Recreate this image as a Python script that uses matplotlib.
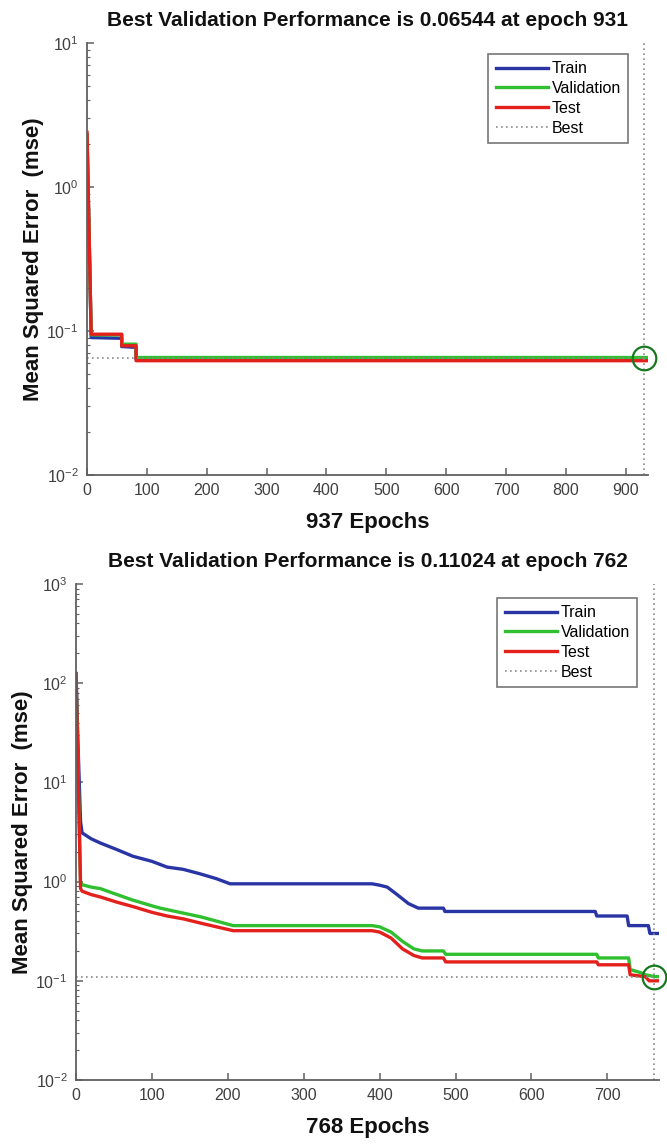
import matplotlib
matplotlib.use("Agg")
import matplotlib.pyplot as plt
from matplotlib.ticker import LogLocator, NullFormatter, FixedLocator

plt.rcParams['font.family'] = ['Liberation Sans', 'DejaVu Sans']
plt.rcParams['mathtext.fontset'] = 'custom'
plt.rcParams['mathtext.rm'] = 'Liberation Sans'
plt.rcParams['mathtext.it'] = 'Liberation Sans:italic'
plt.rcParams['mathtext.bf'] = 'Liberation Sans:bold'

# ---------------- data: top panel ----------------
top_epochs_total = 937
top_best_epoch = 931
top_best_value = 0.06544
top_train_ep = [0, 7, 58, 58, 82, 82, 937]
top_train = [2.3, 0.090, 0.089, 0.078, 0.077, 0.0635, 0.0635]
top_val_ep = [0, 7, 58, 58, 82, 82, 937]
top_val = [2.3, 0.094, 0.094, 0.081, 0.081, 0.06544, 0.06544]
top_test_ep = [0, 7, 58, 58, 82, 82, 937]
top_test = [2.4, 0.095, 0.095, 0.079, 0.079, 0.0622, 0.0622]
top_xticks = [0, 100, 200, 300, 400, 500, 600, 700, 800, 900]

# ---------------- data: bottom panel ----------------
bot_epochs_total = 768
bot_best_epoch = 762
bot_best_value = 0.11024
bot_train_ep = [0, 3, 6, 8, 20, 32, 54, 75, 100, 120, 141, 163, 185, 203,
                390, 400, 410, 423, 438, 451, 484, 486, 684, 686, 726, 728,
                754, 756, 768]
bot_train = [125, 20, 4.0, 3.1, 2.7, 2.45, 2.1, 1.8, 1.6, 1.4, 1.33, 1.2,
             1.07, 0.95, 0.95, 0.92, 0.88, 0.74, 0.60, 0.54, 0.54, 0.50,
             0.50, 0.45, 0.45, 0.36, 0.36, 0.30, 0.30]
bot_val_ep = [0, 6, 8, 20, 32, 54, 75, 100, 111, 142, 165, 185, 207,
              390, 400, 415, 430, 445, 456, 484, 487, 686, 688, 728, 730,
              745, 750, 762, 768]
bot_val = [125, 1.0, 0.93, 0.88, 0.85, 0.74, 0.65, 0.57, 0.54, 0.48, 0.44,
           0.40, 0.36, 0.36, 0.35, 0.31, 0.25, 0.21, 0.20, 0.20, 0.185,
           0.185, 0.17, 0.17, 0.13, 0.12, 0.115, 0.11024, 0.11]
bot_test_ep = [0, 6, 8, 20, 32, 54, 75, 100, 120, 142, 165, 185, 207,
               390, 400, 415, 430, 445, 456, 484, 487, 686, 688, 728, 730,
               750, 755, 768]
bot_test = [125, 0.85, 0.80, 0.74, 0.70, 0.62, 0.56, 0.49, 0.45, 0.42, 0.38,
            0.35, 0.32, 0.32, 0.31, 0.27, 0.21, 0.18, 0.17, 0.17, 0.155,
            0.155, 0.145, 0.145, 0.115, 0.11, 0.10, 0.10]
bot_xticks = [0, 100, 200, 300, 400, 500, 600, 700]

C_TRAIN = '#2a35a5'
C_VAL = '#2fbf2f'
C_TEST = '#e3201c'
C_BEST = '#8a8a8a'
C_CIRCLE = '#17781f'
C_AXIS = '#606060'
C_TICK = '#404040'

fig = plt.figure(figsize=(6.67, 11.44), dpi=100)
ax1 = fig.add_axes([87/667, 1-475/1144, (648-87)/667, (475-43)/1144])
ax2 = fig.add_axes([76/667, 1-1080/1144, (659-76)/667, (1080-584)/1144])


def style(ax, n, ylim, xticks, best_ep, best_val, title, leg_anchor):
    ax.set_yscale('log')
    ax.set_xlim(0, n)
    ax.set_ylim(*ylim)
    ax.hlines(best_val, 0, best_ep, colors=C_BEST, linestyles=(0, (1, 2)), lw=1.2, label='Best')
    ax.axvline(best_ep, color=C_BEST, ls=(0, (1, 2)), lw=1.2)
    ax.plot([best_ep], [best_val], 'o', ms=17, mfc='none', mec=C_CIRCLE, mew=1.6, clip_on=False, zorder=6)
    for s in ['top', 'right']:
        ax.spines[s].set_visible(False)
    for s in ['left', 'bottom']:
        ax.spines[s].set_color(C_AXIS)
        ax.spines[s].set_linewidth(1.3)
    ax.xaxis.set_major_locator(FixedLocator(xticks))
    ax.yaxis.set_major_locator(LogLocator(base=10, numticks=20))
    ax.yaxis.set_minor_locator(LogLocator(base=10, subs=range(2, 10), numticks=20))
    ax.yaxis.set_minor_formatter(NullFormatter())
    ax.tick_params(axis='both', which='major', direction='in', length=5, width=1.1,
                   color=C_AXIS, labelcolor=C_TICK, labelsize=11.5, pad=6)
    ax.tick_params(axis='y', which='minor', direction='in', length=2.5, width=0.8, color=C_AXIS)
    ax.set_title(title, fontsize=15, fontweight='bold', color='#111111', pad=12)
    ax.set_xlabel(f'{n} Epochs', fontsize=16, fontweight='bold', color='#111111', labelpad=10)
    ax.set_ylabel('Mean Squared Error  (mse)', fontsize=16, fontweight='bold', color='#111111', labelpad=2)
    h, l = ax.get_legend_handles_labels()
    order = [l.index(x) for x in ['Train', 'Validation', 'Test', 'Best']]
    leg = ax.legend([h[i] for i in order], [l[i] for i in order], loc='upper right',
                    bbox_to_anchor=leg_anchor, fontsize=11.5, fancybox=False,
                    edgecolor='#777777', framealpha=1, handlelength=3.3,
                    handletextpad=0.2, labelspacing=0.3, borderpad=0.45,
                    borderaxespad=0)
    leg.get_frame().set_linewidth(1.2)


ax1.plot(top_train_ep, top_train, color=C_TRAIN, lw=2.4, label='Train')
ax1.plot(top_val_ep, top_val, color=C_VAL, lw=2.4, label='Validation')
ax1.plot(top_test_ep, top_test, color=C_TEST, lw=2.4, label='Test')
style(ax1, top_epochs_total, (1e-2, 1e1), top_xticks, top_best_epoch, top_best_value,
      f'Best Validation Performance is {top_best_value:.5f} at epoch {top_best_epoch}',
      ((628-87)/561, 1-(54-43)/432))

ax2.plot(bot_train_ep, bot_train, color=C_TRAIN, lw=2.4, label='Train')
ax2.plot(bot_val_ep, bot_val, color=C_VAL, lw=2.4, label='Validation')
ax2.plot(bot_test_ep, bot_test, color=C_TEST, lw=2.4, label='Test')
style(ax2, bot_epochs_total, (1e-2, 1e3), bot_xticks, bot_best_epoch, bot_best_value,
      f'Best Validation Performance is {bot_best_value:.5f} at epoch {bot_best_epoch}',
      ((637-76)/583, 1-(598-584)/496))

fig.savefig('out.png', dpi=100)
